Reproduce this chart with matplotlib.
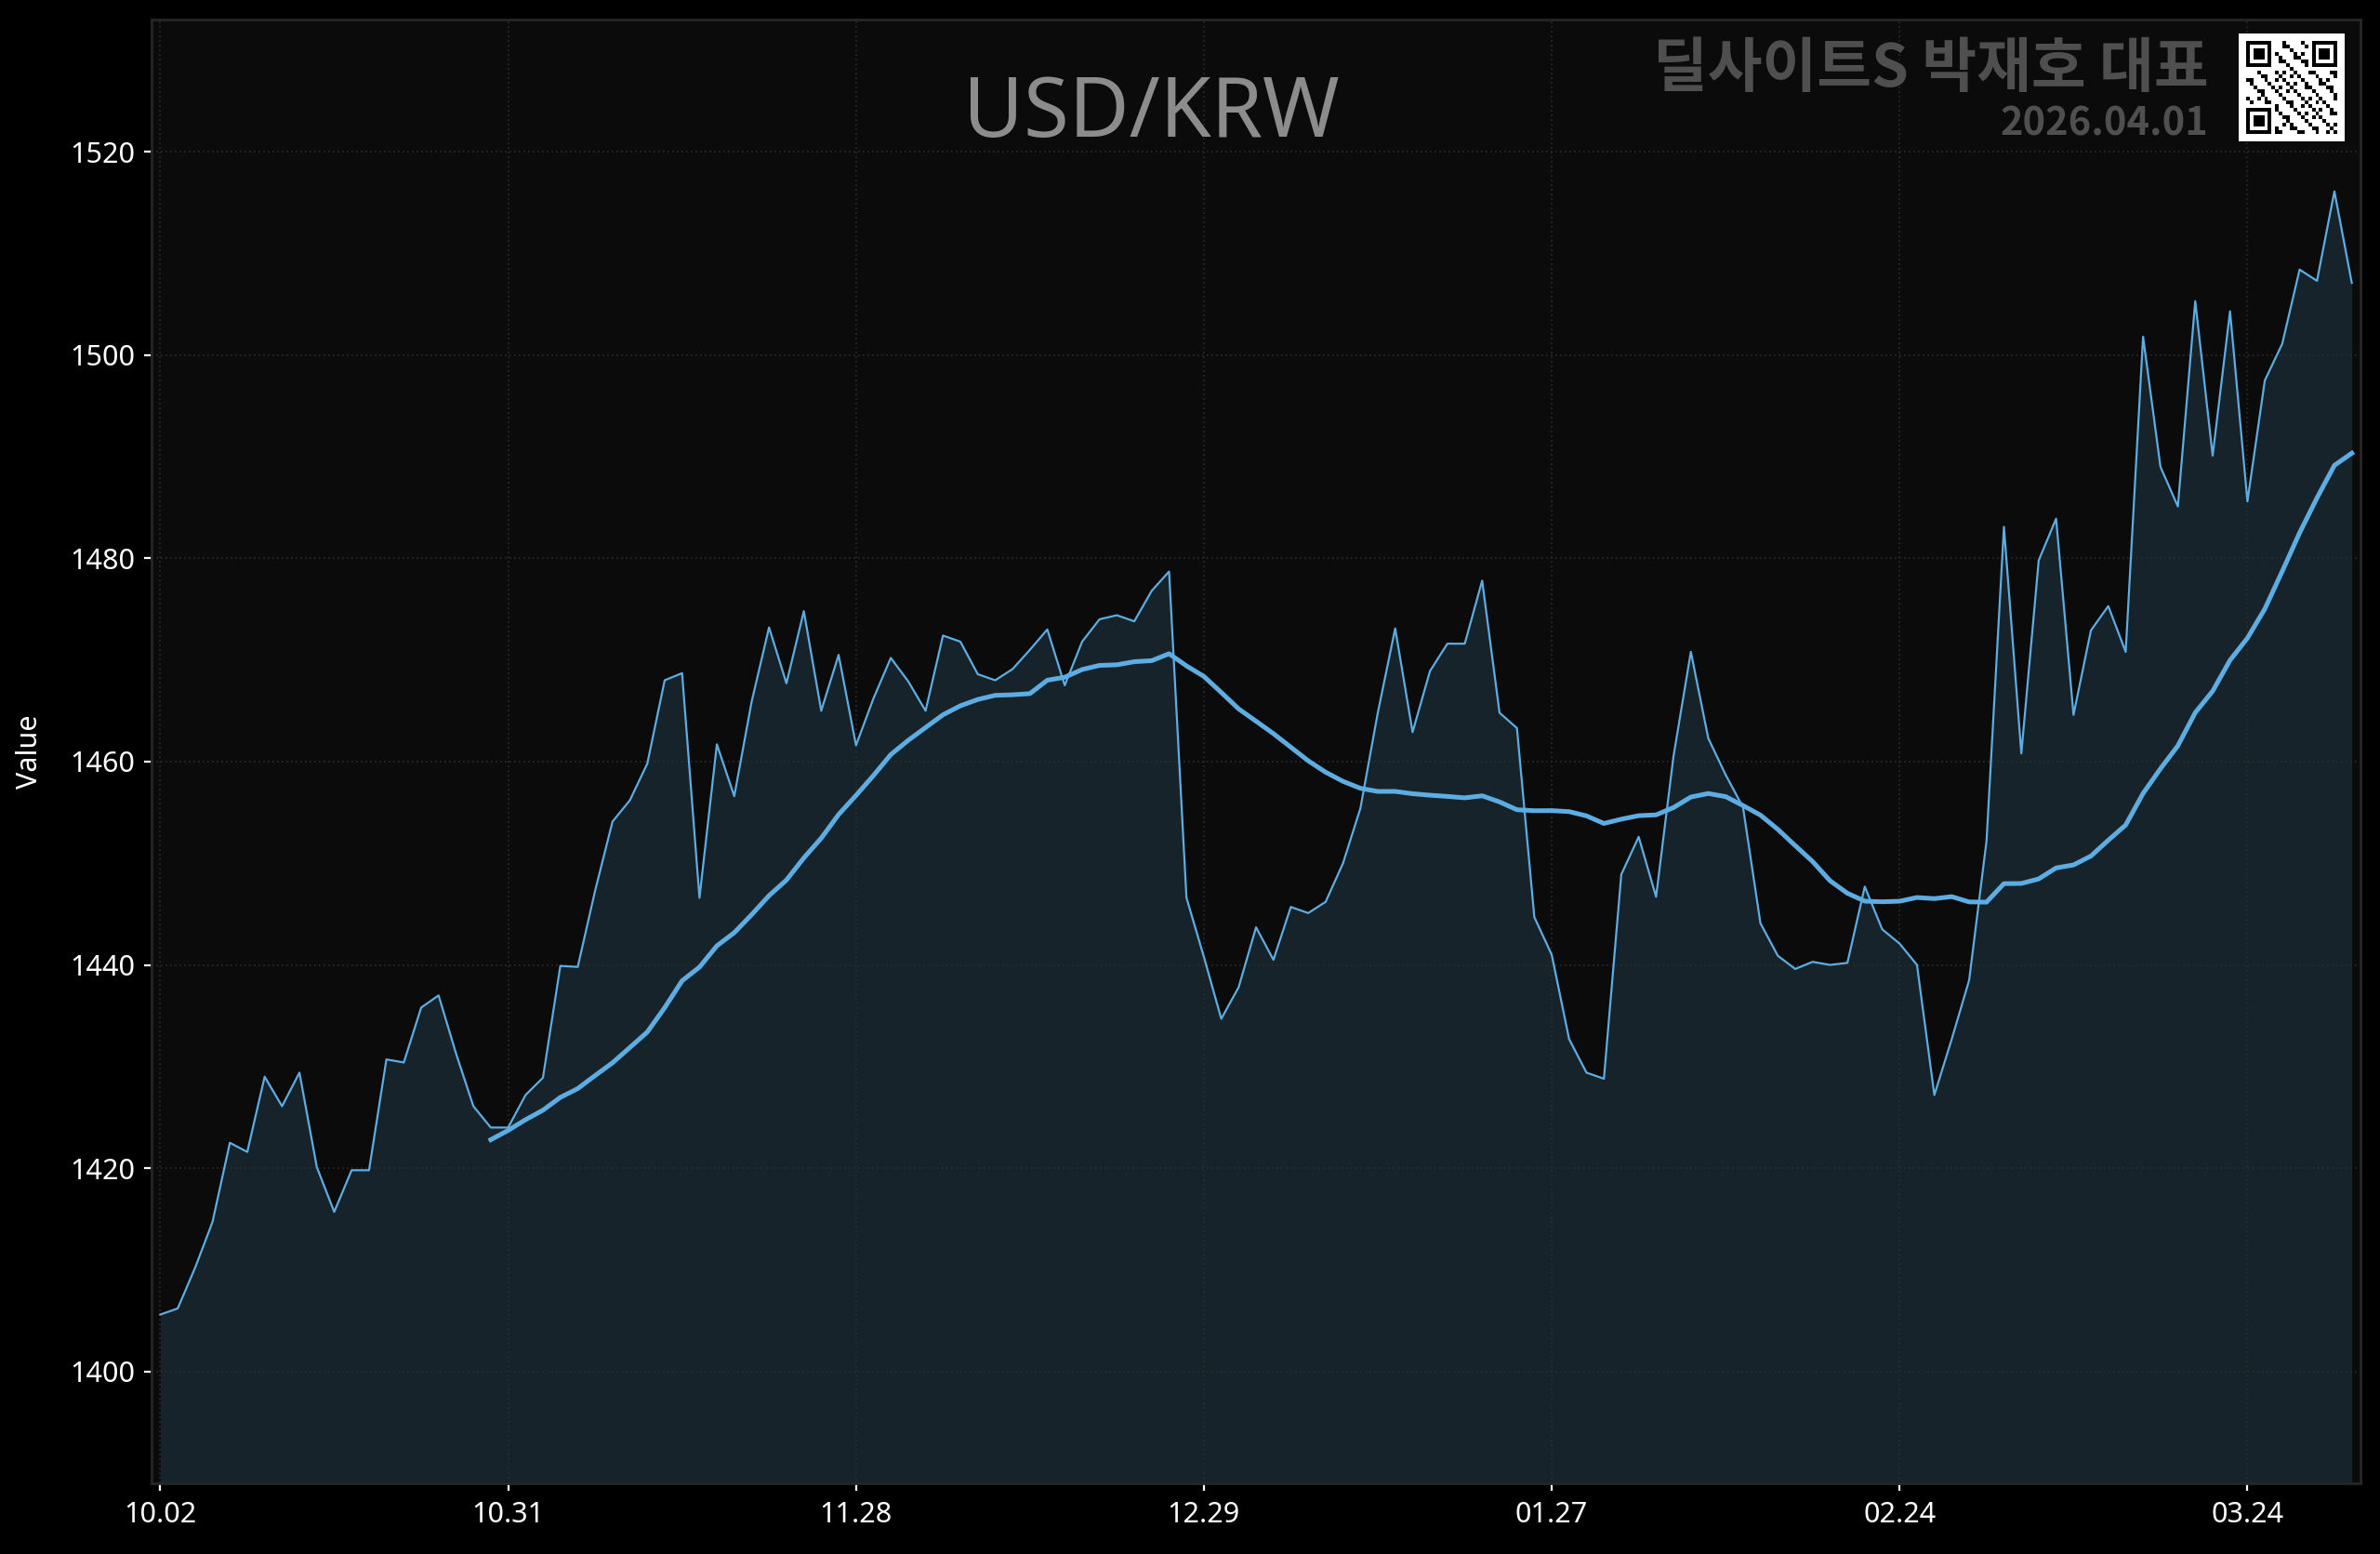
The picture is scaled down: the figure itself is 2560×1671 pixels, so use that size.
import matplotlib
matplotlib.use("Agg")
import matplotlib.pyplot as plt
import numpy as np
import pandas as pd

# daily USD/KRW closes, 10.02 -> 03.31 (trading days)
rates = [
    1405.6, 1406.2, 1410.2, 1414.7, 1422.5, 1421.6, 1429.0, 1426.1, 1429.4, 1420.1,
    1415.7, 1419.8, 1419.8, 1430.7, 1430.4, 1435.8, 1437.0, 1431.3, 1426.1, 1424.0,
    1424.0, 1427.2, 1428.9, 1439.9, 1439.8, 1447.3, 1454.1, 1456.2, 1459.8, 1468.0,
    1468.7, 1446.6, 1461.7, 1456.6, 1465.9, 1473.2, 1467.7, 1474.8, 1465.0, 1470.5,
    1461.6, 1466.2, 1470.2, 1467.9, 1465.0, 1472.4, 1471.8, 1468.6, 1468.0, 1469.1,
    1471.0, 1473.0, 1467.5, 1471.8, 1474.0, 1474.4, 1473.8, 1476.8, 1478.7, 1446.6,
    1440.8, 1434.7, 1437.8, 1443.7, 1440.5, 1445.7, 1445.1, 1446.2, 1450.0, 1455.4,
    1464.8, 1473.1, 1462.9, 1468.9, 1471.6, 1471.6, 1477.8, 1464.8, 1463.3, 1444.7,
    1441.0, 1432.7, 1429.4, 1428.8, 1448.9, 1452.6, 1446.7, 1460.5, 1470.8, 1462.3,
    1458.7, 1455.5, 1444.1, 1440.9, 1439.6, 1440.3, 1440.0, 1440.2, 1447.7, 1443.5,
    1442.1, 1440.0, 1427.2, 1432.7, 1438.5, 1452.2, 1483.1, 1460.8, 1479.8, 1483.9,
    1464.6, 1472.9, 1475.3, 1470.8, 1501.8, 1489.0, 1485.1, 1505.3, 1490.1, 1504.3,
    1485.6, 1497.5, 1501.1, 1508.4, 1507.3, 1516.1, 1507.1,
]
tick_labels = ["10.02", "10.31", "11.28", "12.29", "01.27", "02.24", "03.24"]
tick_step = 20
ma_window = 20
y_ticks = [1400, 1420, 1440, 1460, 1480, 1500, 1520]

title = "USD/KRW"
watermark = "딜사이트S 박재호 대표"
stamp = "2026.04.01"

plt.rcParams['font.family'] = ['Noto Sans', 'Noto Sans CJK KR', 'DejaVu Sans']

line_c = "#5dade2"
fig = plt.figure(figsize=(12.8, 8.355), dpi=200, facecolor="black")
ax = fig.add_axes([0.0637, 0.0455, 0.9281, 0.9419])
ax.set_facecolor("#0b0b0b")

x = np.arange(len(rates))
ma = pd.Series(rates).rolling(ma_window).mean()

ymin, ymax = 1389, 1533
ax.fill_between(x, rates, ymin, color=line_c, alpha=0.15, lw=0)
ax.plot(x, rates, color=line_c, lw=0.8)
ax.plot(x, ma, color=line_c, lw=1.8)

ax.set_xlim(-0.5, len(rates) - 0.5)
ax.set_ylim(ymin, ymax)
ax.set_xticks(range(0, len(rates), tick_step))
ax.set_xticklabels(tick_labels)
ax.set_yticks(y_ticks)
ax.tick_params(colors="white", labelsize=11, length=3, width=0.8)
ax.tick_params(axis="x", pad=4)
ax.set_ylabel("Value", color="white", fontsize=11, labelpad=10)
ax.grid(True, color="#2c2c2c", linestyle=(0, (1, 2)), lw=0.6)
for sp in ax.spines.values():
    sp.set_color("#262626")
    sp.set_linewidth(1.0)

fig.text(0.4836, 0.926, title, ha="center", va="center", fontsize=32, color="#8c8c8c")
fig.text(0.928, 0.9555, watermark, ha="right", va="center", fontsize=23,
         weight="bold", color="#4f4f4f", family=['Noto Sans CJK KR'])
fig.text(0.928, 0.920, stamp, ha="right", va="center", fontsize=15,
         weight="bold", color="#4f4f4f", family=['Noto Sans CJK KR'])

# QR-style badge in the corner
n = 25
qr = np.zeros((n, n), dtype=int)
r, c = np.indices((n, n))
qr[((r * 7 + c * 3) % 5 == 0) | ((r * c) % 7 == 3)] = 1
def finder(r0, c0):
    qr[r0:r0 + 7, c0:c0 + 7] = 1
    qr[r0 + 1:r0 + 6, c0 + 1:c0 + 6] = 0
    qr[r0 + 2:r0 + 5, c0 + 2:c0 + 5] = 1
finder(0, 0)
finder(0, n - 7)
finder(n - 7, 0)
qr[7, :8] = 0; qr[:8, 7] = 0
qr[7, n - 8:] = 0; qr[:8, n - 8] = 0
qr[n - 8, :8] = 0; qr[n - 8:, 7] = 0
qr = np.pad(qr, 2)
qax = fig.add_axes([0.9406, 0.909, 0.0445, 0.0694])
qax.imshow(qr, cmap="gray_r", interpolation="nearest", aspect="auto")
qax.set_axis_off()

fig.savefig("out.png", dpi=200, facecolor="black")
